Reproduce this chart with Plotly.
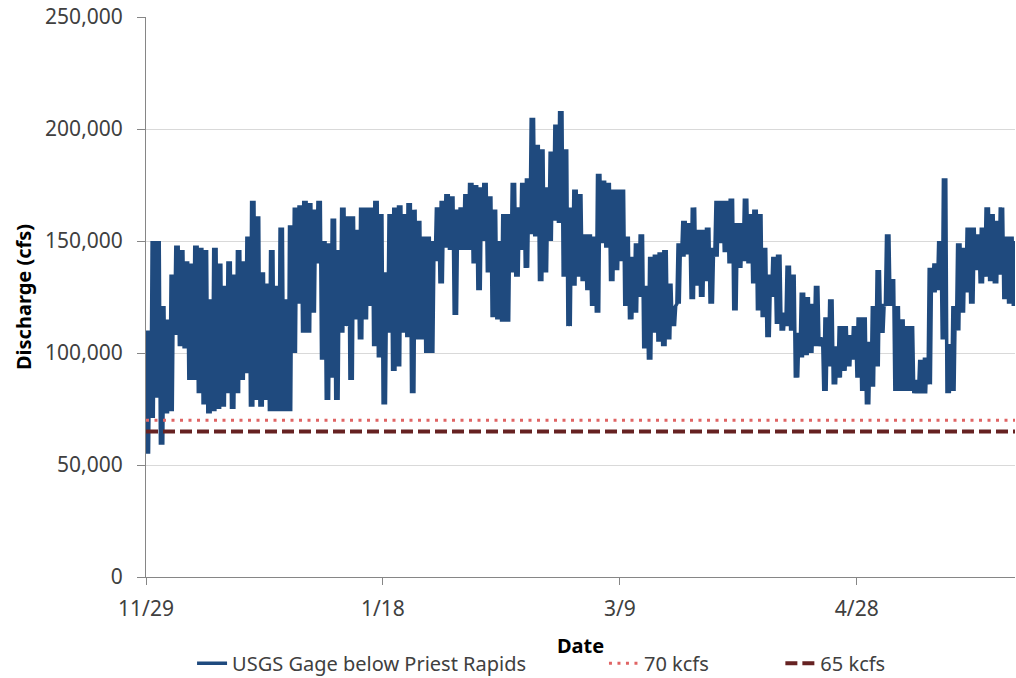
import pandas as pd
import plotly.graph_objects as go

# ---- data, discharge in kcfs ----
start_date = "2014-11-29"
end_date = "2015-05-31 09:36"

daily_high_kcfs = [
    110, 150, 150, 121, 115, 135, 148, 146, 141, 140,
    148, 147, 146, 124, 147, 140, 130, 141, 135, 146,
    141, 152, 168, 161, 136, 131, 146, 130, 156, 124,
    157, 165, 166, 168, 167, 164, 168, 150, 149, 160,
    146, 165, 161, 161, 155, 165, 165, 165, 168, 162,
    136, 162, 165, 166, 162, 167, 164, 159, 152, 152,
    150, 165, 168, 171, 170, 164, 165, 171, 176, 175,
    174, 176, 170, 164, 150, 162, 162, 176, 165, 176,
    178, 205, 193, 191, 174, 190, 202, 208, 191, 165,
    173, 171, 153, 153, 152, 180, 177, 176, 173, 173,
    173, 152, 143, 149, 153, 130, 143, 144, 145, 146,
    131, 121, 149, 159, 158, 165, 155, 155, 156, 147,
    168, 168, 168, 169, 158, 158, 169, 162, 164, 162,
    147, 135, 143, 144, 118, 139, 135, 109, 127, 125,
    122, 130, 107, 116, 124, 103, 112, 112, 108, 112,
    116, 116, 105, 121, 137, 122, 153, 133, 121, 115,
    112, 112, 88, 97, 98, 138, 140, 150, 178, 104,
    121, 149, 147, 156, 156, 153, 156, 165, 162, 159,
    165, 152, 152, 150,
]

daily_low_kcfs = [
    55, 71, 80, 59, 73, 74, 108, 103, 102, 88,
    88, 82, 77, 73, 74, 75, 76, 82, 75, 82,
    88, 91, 76, 79, 76, 79, 74, 74, 74, 74,
    74, 100, 122, 109, 109, 118, 140, 97, 79, 89,
    79, 109, 112, 88, 115, 106, 115, 121, 103, 98,
    77, 109, 92, 94, 109, 107, 82, 106, 106, 100,
    100, 141, 131, 147, 146, 117, 146, 146, 146, 140,
    128, 150, 136, 116, 115, 114, 114, 136, 134, 146,
    138, 153, 152, 132, 136, 150, 159, 158, 134, 112,
    130, 134, 132, 128, 121, 118, 149, 147, 132, 137,
    141, 121, 115, 118, 125, 102, 97, 109, 105, 103,
    106, 112, 122, 143, 144, 124, 130, 125, 132, 122,
    143, 149, 145, 140, 119, 138, 141, 140, 131, 119,
    116, 107, 125, 113, 110, 112, 110, 89, 98, 99,
    100, 103, 103, 83, 94, 86, 89, 92, 94, 97,
    89, 83, 77, 85, 94, 109, 121, 121, 83, 83,
    83, 83, 82, 82, 82, 86, 127, 128, 106, 82,
    83, 110, 118, 127, 122, 137, 131, 134, 132, 131,
    135, 124, 122, 121,
]

threshold_70_cfs = 70000
threshold_65_cfs = 65000

tick_dates = ["2014-11-29", "2015-01-18", "2015-03-09", "2015-04-28"]
tick_labels = ["11/29", "1/18", "3/9", "4/28"]

# ---- build the sub-daily series: two low/high swings each day ----
days = pd.date_range(start_date, periods=len(daily_high_kcfs), freq="D")
xs, ys = [], []
for d, lo, hi in zip(days, daily_low_kcfs, daily_high_kcfs):
    for h, v in ((1, lo), (7, hi), (13, lo), (19, hi)):
        xs.append(d + pd.Timedelta(hours=h))
        ys.append(v * 1000)

font_family = "Noto Sans, Open Sans, sans-serif"
text_color = "#404040"

fig = go.Figure()
fig.add_trace(go.Scatter(
    x=xs, y=ys, mode="lines", name="USGS Gage below Priest Rapids",
    line=dict(color="#1F4A7E", width=3.5), legend="legend",
))
fig.add_trace(go.Scatter(
    x=[start_date, end_date], y=[threshold_70_cfs, threshold_70_cfs],
    mode="lines", name="70 kcfs",
    line=dict(color="#E06464", width=3, dash="3px,5.5px"), legend="legend2",
))
fig.add_trace(go.Scatter(
    x=[start_date, end_date], y=[threshold_65_cfs, threshold_65_cfs],
    mode="lines", name="65 kcfs",
    line=dict(color="#662222", width=4, dash="12px,5px"), legend="legend3",
))

legend_common = dict(
    orientation="h", yanchor="middle", y=-0.154, xanchor="left",
    font=dict(family=font_family, size=20, color=text_color),
    bgcolor="rgba(0,0,0,0)", borderwidth=0,
)

fig.update_layout(
    width=1016, height=678,
    margin=dict(l=146, r=1, t=17, b=101, autoexpand=False),
    paper_bgcolor="white", plot_bgcolor="white",
    font=dict(family=font_family, size=20, color=text_color),
    showlegend=True,
    legend=dict(x=0.053, **legend_common),
    legend2=dict(x=0.527, **legend_common),
    legend3=dict(x=0.730, **legend_common),
    xaxis=dict(
        type="date", range=[start_date, end_date], automargin=False,
        tickvals=tick_dates, ticktext=tick_labels,
        showgrid=False, showline=True, linecolor="#868686", linewidth=1,
        ticks="outside", ticklen=7, tickcolor="#868686",
        tickfont=dict(family=font_family, size=21, color=text_color),
        ticklabelstandoff=6, ticklabeloverflow="allow",
        title=dict(text="<b>Date</b>", standoff=17,
                   font=dict(family=font_family, size=20, color="black")),
        zeroline=False,
    ),
    yaxis=dict(
        range=[0, 250000], dtick=50000, tickformat=",", automargin=False,
        showgrid=True, gridcolor="#D9D9D9", gridwidth=1,
        showline=True, linecolor="#868686", linewidth=1,
        ticks="outside", ticklen=8, tickcolor="#868686",
        tickfont=dict(family=font_family, size=21, color=text_color),
        ticklabelstandoff=10, ticklabeloverflow="allow",
        title=dict(text="<b>Discharge (cfs)</b>", standoff=8,
                   font=dict(family=font_family, size=20, color="black")),
        zeroline=False,
    ),
)

# remove the browser's default 8px page margin so the figure fills the window
fig.write_html(
    "out.html",
    config={"displayModeBar": False},
    post_script="document.body.style.margin='0px';document.body.style.overflow='hidden';",
)
